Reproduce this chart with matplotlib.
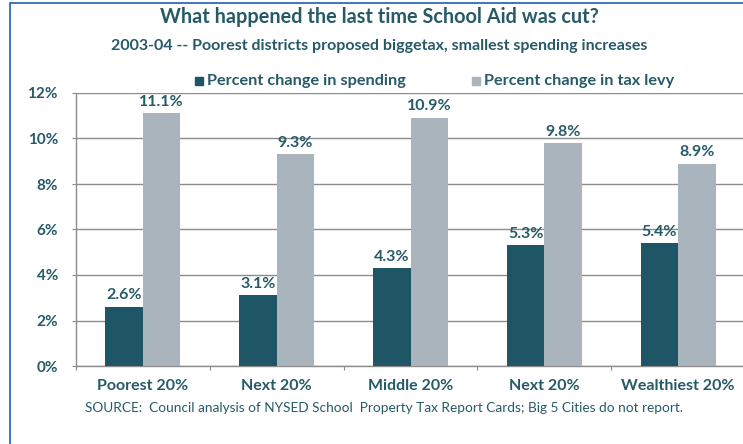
import numpy as np
import matplotlib.pyplot as plt
from matplotlib.patches import Rectangle

groups = ['Poorest 20%', 'Next 20%', 'Middle 20%', 'Next 20%', 'Wealthiest 20%']
spending = [2.6, 3.1, 4.3, 5.3, 5.4]
tax_levy = [11.1, 9.3, 10.9, 9.8, 8.9]
yticks = [0, 2, 4, 6, 8, 10, 12]

DARK = '#1f5666'
LIGHT = '#a9b4bc'
TXT = '#265a69'
GRID = '#8c8c8c'

plt.rcParams['font.family'] = ['Lato', 'DejaVu Sans']

fig = plt.figure(figsize=(7.43, 4.44), dpi=100)
W, H = 743, 444

# outer frame
fig.patches.append(Rectangle((10 / W, -0.1), 1.2, 1 - 3 / H + 0.1,
                             transform=fig.transFigure, fill=False,
                             edgecolor='#1f5fae', lw=1.2))

ax = fig.add_axes([76 / W, 78 / H, 669 / W, 273 / H])
x = np.arange(len(groups))
w = 0.28
b1 = ax.bar(x - w / 2, spending, w, color=DARK, zorder=3)
b2 = ax.bar(x + w / 2, tax_levy, w, color=LIGHT, zorder=3)

for bars, vals in ((b1, spending), (b2, tax_levy)):
    for r, v in zip(bars, vals):
        ax.text(r.get_x() + r.get_width() / 2, v + 0.2, f'{v:.1f}%',
                ha='center', va='bottom', fontsize=11.5, fontweight='bold', color=TXT, zorder=4)

ax.set_xlim(-0.5, len(groups) - 0.5)
ax.set_ylim(0, 12)
ax.set_yticks(yticks)
ax.set_yticklabels([f'{t}%' for t in yticks], fontsize=11, fontweight='bold', color=TXT)
ax.yaxis.grid(True, color=GRID, lw=1, zorder=0)
ax.set_axisbelow(True)

ax.set_xticks(np.arange(len(groups) + 1) - 0.5)
ax.set_xticklabels([])
for i, g in enumerate(groups):
    ax.text(i, -0.55, g, ha='center', va='top', fontsize=11.5, fontweight='bold', color=TXT)
ax.tick_params(axis='both', length=3, color=GRID)
ax.tick_params(axis='y', pad=10)

for s in ('top', 'right'):
    ax.spines[s].set_visible(False)
for s in ('left', 'bottom'):
    ax.spines[s].set_color(GRID)
    ax.spines[s].set_linewidth(1)

fig.text(379 / W, 1 - 17 / H, 'What happened the last time School Aid was cut?',
         ha='center', va='center', fontsize=14.3, fontweight='bold', color=TXT)
fig.text(379 / W, 1 - 46 / H, '2003-04 -- Poorest districts proposed biggetax, smallest spending increases',
         ha='center', va='center', fontsize=11.5, fontweight='bold', color=TXT)

# legend
for lx, lab, col in ((195, 'Percent change in spending', DARK), (472, 'Percent change in tax levy', LIGHT)):
    fig.patches.append(Rectangle((lx / W, 1 - 85 / H), 8 / W, 8 / H,
                                 transform=fig.transFigure, color=col))
    fig.text((lx + 12) / W, 1 - 81 / H, lab, ha='left', va='center',
             fontsize=11.7, fontweight='bold', color=TXT)

fig.text(85 / W, 1 - 408 / H,
         'SOURCE:  Council analysis of NYSED School  Property Tax Report Cards; Big 5 Cities do not report.',
         ha='left', va='center', fontsize=9.8, color=TXT)

fig.savefig('out.png', dpi=100)
